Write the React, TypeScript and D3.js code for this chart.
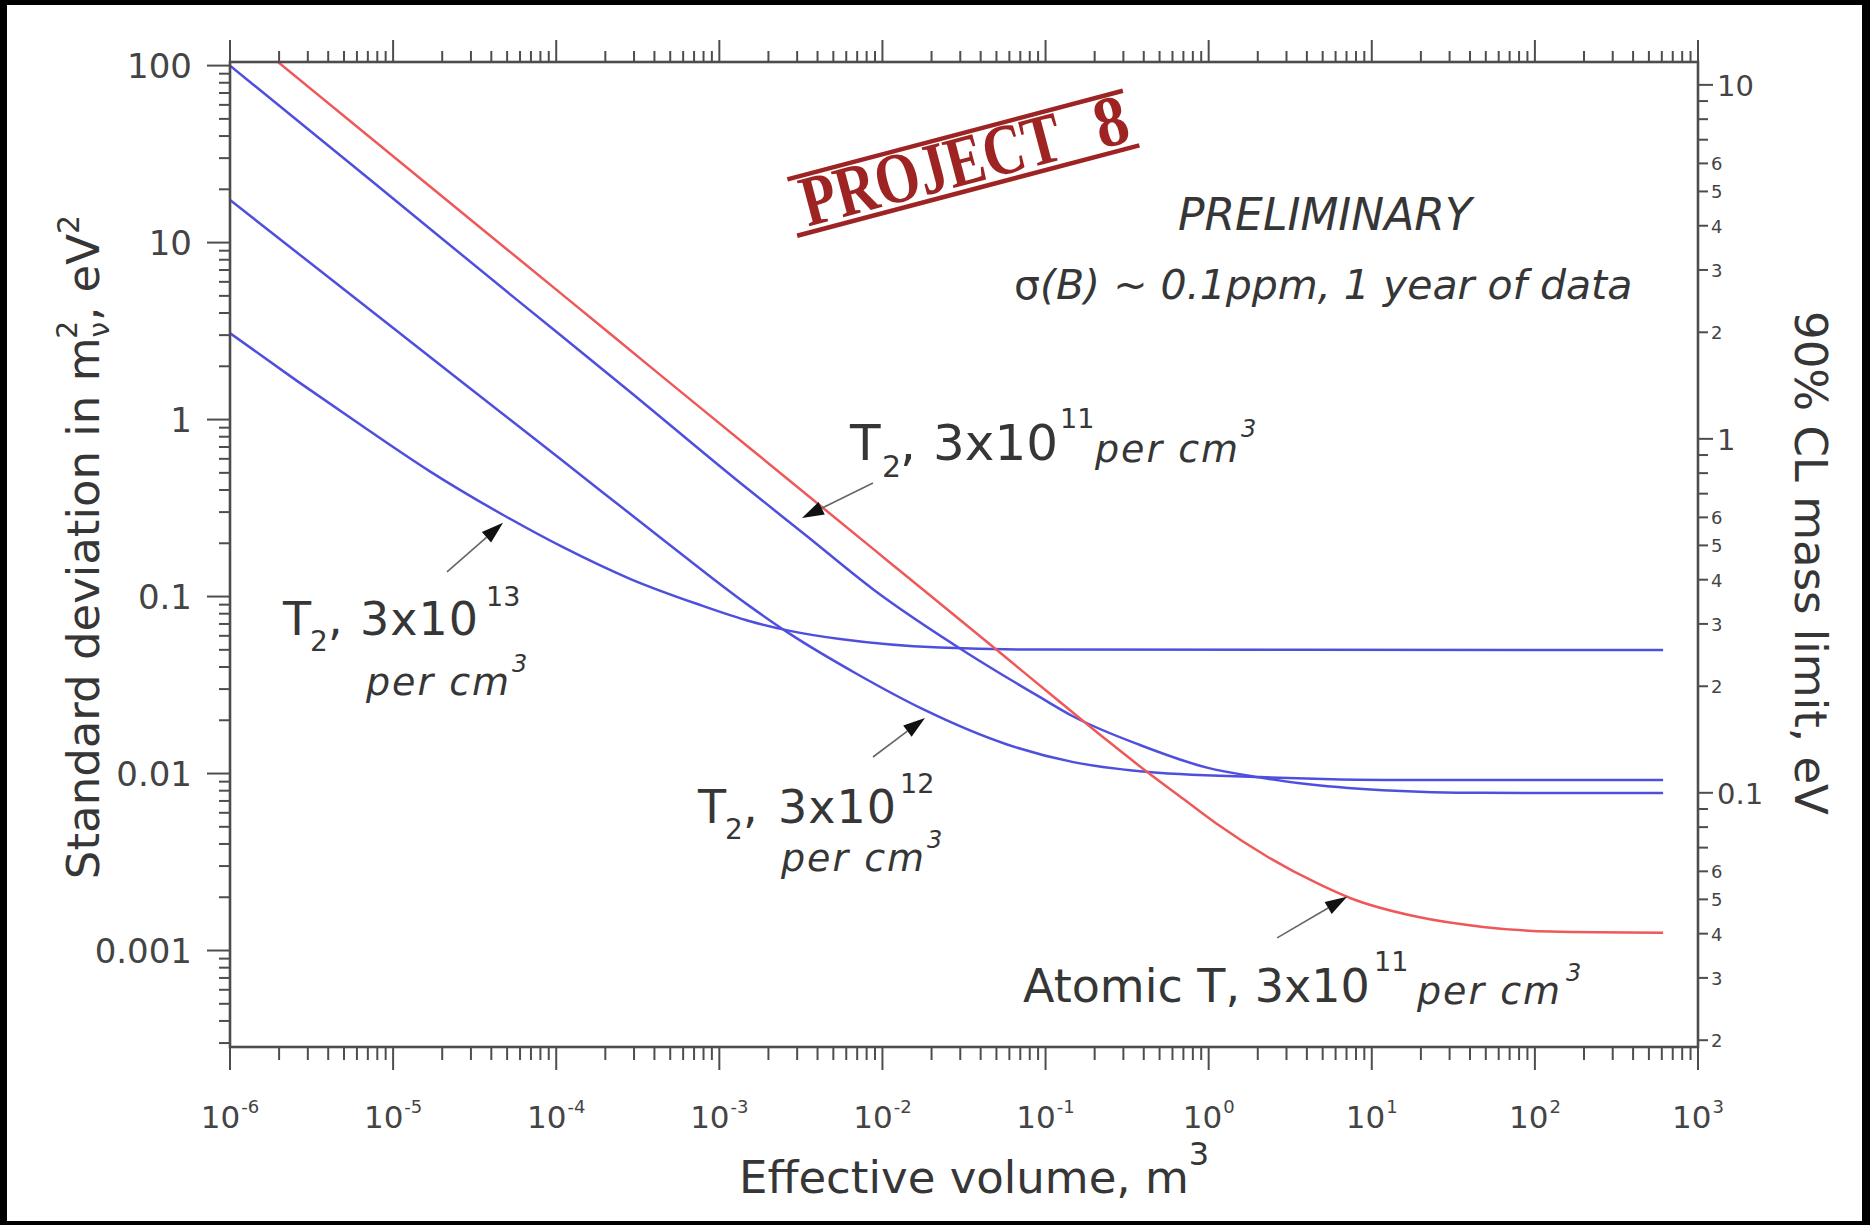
import React from 'react';
import * as d3 from 'd3';

// Canvas and plot frame
const W = 1870;
const H = 1225;
const PLOT = { left: 230, right: 1698, top: 62, bottom: 1047 };

// Axis domains
const X_DOMAIN: [number, number] = [1e-6, 1e3];
const Y_DOMAIN: [number, number] = [2.85e-4, 104.8];
// 90% CL mass limit squared relative to the m^2 standard deviation
const MASS_FACTOR = 1.285;

// Tick definitions
const xDecades = [-6, -5, -4, -3, -2, -1, 0, 1, 2, 3];
const xTickExponents = ['-6', '-5', '-4', '-3', '-2', '-1', '0', '1', '2', '3'];
const yMajorTicks = [100, 10, 1, 0.1, 0.01, 0.001];
const yMajorLabels = ['100', '10', '1', '0.1', '0.01', '0.001'];
const yMinorDecades = [-4, -3, -2, -1, 0, 1];
const minorMultipliers = [2, 3, 4, 5, 6, 7, 8, 9];
const massMajorTicks = [10, 1, 0.1];
const massMajorLabels = ['10', '1', '0.1'];
const massMinorDecades = [-2, -1, 0];
const massLabelledMultipliers = [2, 3, 4, 5, 6];

// Series: [effective volume (m^3), standard deviation in m_nu^2 (eV^2)]
const atomicT_3e11: [number, number][] = [
  [1.97e-6, 104.7], [3.3e-5, 12.5], [1.1e-4, 5.05], [4.3e-4, 1.8], [1.54e-3, 0.689],
  [1.07e-2, 0.16], [5.05e-2, 0.0497], [0.118, 0.0261], [0.238, 0.0154],
  [0.438, 0.0099], [0.697, 0.0072], [1.12, 0.0052], [2.28, 0.0034], [4.62, 0.0024],
  [7.36, 0.00198], [19.0, 0.00155], [48.1, 0.00136], [124, 0.00128], [611, 0.00126],
];
const t2_3e11: [number, number][] = [
  [1e-6, 100], [7.2e-6, 22.7], [5.43e-5, 4.95], [2.7e-4, 1.49], [1.34e-3, 0.44],
  [3.45e-3, 0.219], [8.75e-3, 0.11], [0.033, 0.048], [0.0925, 0.027],
  [0.148, 0.021], [0.379, 0.0145], [0.977, 0.0108], [2.07, 0.0095],
  [3.63, 0.0088], [11.7, 0.00805], [48.1, 0.00778], [611, 0.00776],
];
const t2_3e12: [number, number][] = [
  [1e-6, 17.4], [5.68e-6, 4.96], [2.69e-5, 1.61], [1.1e-4, 0.583], [4.52e-4, 0.2095],
  [1.54e-3, 0.088], [2.71e-3, 0.0615], [6.98e-3, 0.0365], [0.0177, 0.0231],
  [0.0581, 0.0146], [0.148, 0.0116], [0.379, 0.0103], [2.07, 0.00955],
  [14.9, 0.0092], [611, 0.0092],
];
const t2_3e13: [number, number][] = [
  [1e-6, 3.08], [2.56e-6, 1.66], [6.58e-6, 0.91], [1.68e-5, 0.51], [4.73e-5, 0.289],
  [1.1e-4, 0.19], [2.83e-4, 0.126], [7.26e-4, 0.091], [1.54e-3, 0.0725],
  [2.71e-3, 0.064], [5.5e-3, 0.0575], [0.0225, 0.0515], [0.0925, 0.0502], [611, 0.0499],
];

const SERIES = [
  { key: 't2-13', data: t2_3e13, color: '#4f4fde' },
  { key: 't2-12', data: t2_3e12, color: '#4f4fde' },
  { key: 't2-11', data: t2_3e11, color: '#4f4fde' },
  { key: 'atomic-11', data: atomicT_3e11, color: '#ef5858' },
];

// Annotation arrow tips in data space, with tail offsets in pixels
const ARROWS = [
  { tip: [3.21e-3, 0.278], tail: [71, -35] },
  { tip: [4.72e-5, 0.261], tail: [-56, 49] },
  { tip: [0.01824, 0.0206], tail: [-52, 39] },
  { tip: [7.06, 0.00201], tail: [-70, 41] },
];

const FONT = "'DejaVu Sans', sans-serif";
const TEXT = '#363636';
const TICK_TEXT = '#444';
const AXIS = '#4d4d4d';
const STAMP = '#9e2424';

function Arrow({ x1, y1, x2, y2 }: { x1: number; y1: number; x2: number; y2: number }) {
  const dx = x2 - x1;
  const dy = y2 - y1;
  const len = Math.hypot(dx, dy);
  const ux = dx / len;
  const uy = dy / len;
  const headLen = 22;
  const half = 7;
  const bx = x2 - ux * headLen;
  const by = y2 - uy * headLen;
  const p = [
    [x2, y2],
    [bx - uy * half, by + ux * half],
    [bx + uy * half, by - ux * half],
  ];
  return (
    <g>
      <line x1={x1} y1={y1} x2={bx} y2={by} stroke="#666" strokeWidth={1.6} />
      <polygon points={p.map((q) => q.join(',')).join(' ')} fill="#111" />
    </g>
  );
}

export default function App() {
  const x = d3.scaleLog().domain(X_DOMAIN).range([PLOT.left, PLOT.right]);
  const y = d3.scaleLog().domain(Y_DOMAIN).range([PLOT.bottom, PLOT.top]);
  const m = d3
    .scaleLog()
    .domain([Math.sqrt(Y_DOMAIN[0] * MASS_FACTOR), Math.sqrt(Y_DOMAIN[1] * MASS_FACTOR)])
    .range([PLOT.bottom, PLOT.top]);

  const line = d3
    .line<[number, number]>()
    .x((d) => x(d[0]))
    .y((d) => y(d[1]))
    .curve(d3.curveMonotoneX);

  const xMinor = xDecades
    .slice(0, -1)
    .flatMap((d) => minorMultipliers.map((k) => k * Math.pow(10, d)));
  const yMinor = yMinorDecades
    .flatMap((d) => minorMultipliers.map((k) => k * Math.pow(10, d)))
    .filter((v) => v >= Y_DOMAIN[0] && v <= Y_DOMAIN[1]);
  const mMinor = massMinorDecades.flatMap((d) =>
    minorMultipliers.map((k) => ({
      v: k * Math.pow(10, d),
      label: massLabelledMultipliers.includes(k) ? String(k) : '',
    }))
  );

  return (
    <svg
      width={W}
      height={H}
      viewBox={`0 0 ${W} ${H}`}
      style={{ position: 'absolute', left: 0, top: 0, display: 'block' }}
      fontFamily={FONT}
    >
      <defs>
        <clipPath id="plot-clip">
          <rect x={PLOT.left} y={PLOT.top} width={PLOT.right - PLOT.left} height={PLOT.bottom - PLOT.top} />
        </clipPath>
      </defs>
      <rect width={W} height={H} fill="#000" />
      <rect x={7} y={5} width={1855} height={1216} fill="#fff" />

      {/* curves */}
      <g clipPath="url(#plot-clip)" fill="none">
        {SERIES.map((s) => (
          <path key={s.key} d={line(s.data) || ''} stroke={s.color} strokeWidth={2.5} />
        ))}
      </g>

      {/* frame */}
      <rect
        x={PLOT.left}
        y={PLOT.top}
        width={PLOT.right - PLOT.left}
        height={PLOT.bottom - PLOT.top}
        fill="none"
        stroke={AXIS}
        strokeWidth={2.6}
      />

      {/* bottom and top x ticks */}
      <g stroke={AXIS} strokeWidth={2}>
        {xDecades.map((d) => {
          const px = x(Math.pow(10, d));
          return (
            <g key={'xM' + d}>
              <line x1={px} x2={px} y1={PLOT.bottom} y2={PLOT.bottom + 23} />
              <line x1={px} x2={px} y1={PLOT.top} y2={PLOT.top - 22} />
            </g>
          );
        })}
        {xMinor.map((v, i) => {
          const px = x(v);
          return (
            <g key={'xm' + i}>
              <line x1={px} x2={px} y1={PLOT.bottom} y2={PLOT.bottom + 13} />
              <line x1={px} x2={px} y1={PLOT.top} y2={PLOT.top - 11} />
            </g>
          );
        })}
      </g>
      <g fill={TICK_TEXT} textAnchor="middle">
        {xDecades.map((d, i) => (
          <text key={'xl' + d} x={x(Math.pow(10, d))} y={1128} fontSize={31}>
            10
            <tspan fontSize={18} dy={-15} dx={1}>
              {xTickExponents[i]}
            </tspan>
          </text>
        ))}
      </g>

      {/* left y ticks */}
      <g stroke={AXIS} strokeWidth={2}>
        {yMajorTicks.map((v) => (
          <line key={'yM' + v} x1={PLOT.left - 23} x2={PLOT.left} y1={y(v)} y2={y(v)} />
        ))}
        {yMinor.map((v, i) => (
          <line key={'ym' + i} x1={PLOT.left - 11} x2={PLOT.left} y1={y(v)} y2={y(v)} />
        ))}
      </g>
      <g fill={TICK_TEXT} textAnchor="end" fontSize={34}>
        {yMajorTicks.map((v, i) => (
          <text key={'yl' + v} x={192} y={y(v) + 12}>
            {yMajorLabels[i]}
          </text>
        ))}
      </g>

      {/* right mass-limit ticks */}
      <g stroke={AXIS} strokeWidth={2}>
        {massMajorTicks.map((v) => (
          <line key={'mM' + v} x1={PLOT.right} x2={PLOT.right + 15} y1={m(v)} y2={m(v)} />
        ))}
        {mMinor.map((t, i) => (
          <line key={'mm' + i} x1={PLOT.right} x2={PLOT.right + 10} y1={m(t.v)} y2={m(t.v)} />
        ))}
      </g>
      <g fill={TICK_TEXT}>
        {massMajorTicks.map((v, i) => (
          <text key={'ml' + v} x={1717} y={m(v) + 11} fontSize={29}>
            {massMajorLabels[i]}
          </text>
        ))}
        {mMinor
          .filter((t) => t.label)
          .map((t, i) => (
            <text key={'mml' + i} x={1711} y={m(t.v) + 7} fontSize={18}>
              {t.label}
            </text>
          ))}
      </g>

      {/* axis titles */}
      <text x={739} y={1193} fontSize={45} fill={TEXT}>
        Effective volume, m
        <tspan fontSize={32} dy={-28}>
          3
        </tspan>
      </text>
      <text transform="translate(99,547) rotate(-90)" textAnchor="middle" fontSize={45} fill={TEXT}>
        Standard deviation in m
        <tspan fontSize={28} dy={10}>
          ν
        </tspan>
        <tspan fontSize={28} dx={-17} dy={-32}>
          2
        </tspan>
        <tspan dy={22}>, eV</tspan>
        <tspan fontSize={30} dy={-20}>
          2
        </tspan>
      </text>
      <text transform="translate(1795,563) rotate(90)" textAnchor="middle" fontSize={45} fill={TEXT}>
        90% CL mass limit, eV
      </text>

      {/* header notes */}
      <text x={1178} y={230} fontSize={44} fontStyle="italic" fill={TEXT}>
        PRELIMINARY
      </text>
      <text x={1014} y={299} fontSize={41} fill={TEXT}>
        σ<tspan fontStyle="italic">(B) ~ 0.1ppm, 1 year of data</tspan>
      </text>

      {/* curve labels */}
      <text fontSize={50} fill={TEXT}>
        <tspan x={850} y={460}>T</tspan>
        <tspan x={882} y={477} fontSize={30}>2</tspan>
        <tspan x={900} y={460}>,</tspan>
        <tspan x={933} y={460}>3x10</tspan>
        <tspan x={1060} y={428} fontSize={27}>11</tspan>
        <tspan x={1095} y={462} fontSize={38} fontStyle="italic" letterSpacing={2}>per cm</tspan>
        <tspan x={1241} y={437} fontSize={24} fontStyle="italic">3</tspan>
      </text>
      <text fontSize={46} fill={TEXT}>
        <tspan x={283} y={635}>T</tspan>
        <tspan x={310} y={651} fontSize={28}>2</tspan>
        <tspan x={328} y={635}>,</tspan>
        <tspan x={360} y={635} letterSpacing={1}>3x10</tspan>
        <tspan x={486} y={606} fontSize={27}>13</tspan>
        <tspan x={366} y={695} fontSize={38} fontStyle="italic" letterSpacing={2}>per cm</tspan>
        <tspan x={512} y={672} fontSize={24} fontStyle="italic">3</tspan>
      </text>
      <text fontSize={46} fill={TEXT}>
        <tspan x={698} y={823}>T</tspan>
        <tspan x={725} y={839} fontSize={28}>2</tspan>
        <tspan x={743} y={823}>,</tspan>
        <tspan x={778} y={823} letterSpacing={1}>3x10</tspan>
        <tspan x={900} y={793} fontSize={27}>12</tspan>
        <tspan x={781} y={871} fontSize={38} fontStyle="italic" letterSpacing={2}>per cm</tspan>
        <tspan x={927} y={848} fontSize={24} fontStyle="italic">3</tspan>
      </text>
      <text fontSize={46} fill={TEXT}>
        <tspan x={1023} y={1002}>Atomic T, 3x10</tspan>
        <tspan x={1374} y={971} fontSize={27}>11</tspan>
        <tspan x={1417} y={1004} fontSize={38} fontStyle="italic" letterSpacing={2}>per cm</tspan>
        <tspan x={1566} y={981} fontSize={24} fontStyle="italic">3</tspan>
      </text>

      {/* annotation arrows */}
      {ARROWS.map((a, i) => {
        const tx = x(a.tip[0]);
        const ty = y(a.tip[1]);
        return <Arrow key={'ar' + i} x1={tx + a.tail[0]} y1={ty + a.tail[1]} x2={tx} y2={ty} />;
      })}

      {/* experiment stamp */}
      <g transform="translate(962,163) rotate(-14.8)" fill={STAMP} stroke="none">
        <rect x={-173} y={-31} width={347} height={4.5} />
        <rect x={-178} y={26} width={354} height={4.5} />
        <g fontFamily="'Liberation Serif', serif" fontWeight="bold" fontSize={72}>
          <text x={-165} y={22} textLength={267} lengthAdjust="spacingAndGlyphs">
            PROJECT
          </text>
          <text x={138} y={22} textLength={33} lengthAdjust="spacingAndGlyphs">
            8
          </text>
        </g>
      </g>
    </svg>
  );
}
